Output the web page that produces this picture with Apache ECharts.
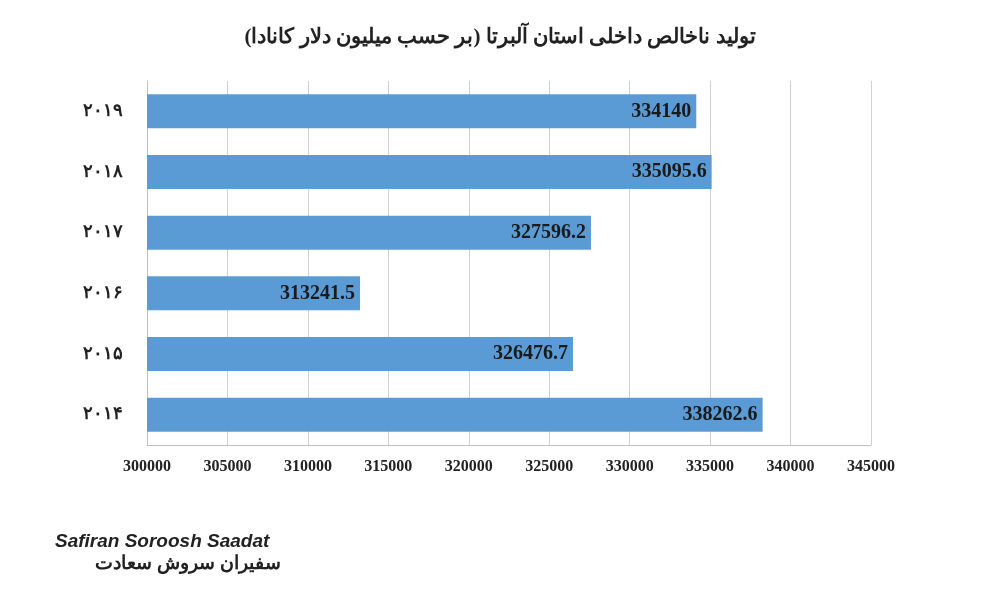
<!DOCTYPE html>
<html><head><meta charset="utf-8">
<script src="https://cdn.jsdelivr.net/npm/echarts@6/dist/echarts.min.js"></script>
<style>html,body{margin:0;background:#fff}#c{width:1000px;height:600px}</style>
</head><body><div id="c"></div>
<script>
const categories = ['۲۰۱۴','۲۰۱۵','۲۰۱۶','۲۰۱۷','۲۰۱۸','۲۰۱۹'];
const values = [338262.6, 326476.7, 313241.5, 327596.2, 335095.6, 334140];
const title = 'تولید ناخالص داخلی استان آلبرتا (بر حسب میلیون دلار کانادا)';
const chart = echarts.init(document.getElementById('c'));
chart.setOption({
  animation:false,
  title:{text:title,left:'center',top:22,textStyle:{fontFamily:'Liberation Serif, DejaVu Serif',fontWeight:'bold',fontSize:21,color:'#222'}},
  grid:{left:147,right:129,top:81,bottom:155},
  xAxis:{type:'value',min:300000,max:345000,interval:5000,
    axisLine:{show:true,lineStyle:{color:'#bfbfbf'}},axisTick:{show:false},
    splitLine:{lineStyle:{color:'#d0d0d0'}},
    axisLabel:{fontFamily:'Liberation Serif',fontWeight:'bold',fontSize:16,color:'#222',margin:14,formatter:v=>String(v)}},
  yAxis:{type:'category',data:categories,
    axisLine:{lineStyle:{color:'#bfbfbf'}},axisTick:{show:false},
    axisLabel:{fontFamily:'Liberation Serif, DejaVu Serif',fontWeight:'bold',fontSize:18,color:'#222',margin:24}},
  series:[{type:'bar',data:values,barWidth:34,itemStyle:{color:'#5b9bd5'},
    label:{show:true,position:'insideRight',fontFamily:'Liberation Serif',fontWeight:'bold',fontSize:20,color:'#1a1a1a'}}],
  graphic:[
    {type:'text',left:55,top:532,style:{text:'Safiran Soroosh Saadat',fontFamily:'Liberation Sans',fontStyle:'italic',fontWeight:'bold',fontSize:19,fill:'#222'}},
    {type:'text',left:95,top:554,style:{text:'سفیران سروش سعادت',fontFamily:'Noto Sans',fontWeight:'bold',fontSize:19,fill:'#222'}}
  ]
});
</script></body></html>
